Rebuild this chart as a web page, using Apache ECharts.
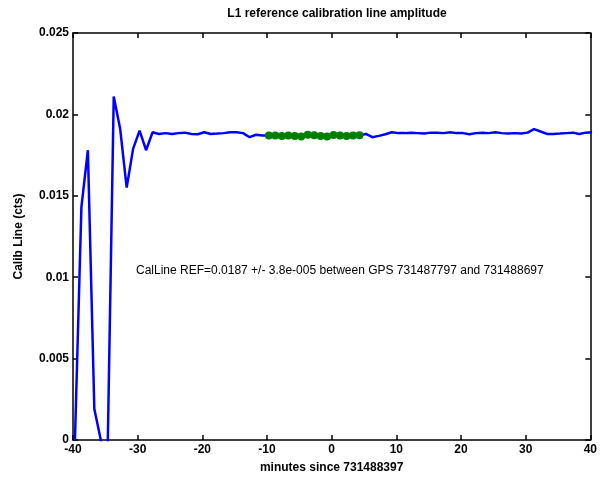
<!DOCTYPE html>
<html>
<head>
<meta charset="utf-8">
<script src="https://cdn.jsdelivr.net/npm/echarts@6/dist/echarts.min.js"></script>
<style>
  html, body { margin: 0; padding: 0; background: #fff; }
  #chart { width: 600px; height: 484px; }
</style>
</head>
<body>
<div id="chart"></div>
<script>
// minutes since 731488397, one sample per minute
const minutes = [
  -39.7, -38.7, -37.7, -36.7, -35.7, -34.7, -33.7, -32.7, -31.7, -30.7,
  -29.7, -28.7, -27.7, -26.7, -25.7, -24.7, -23.7, -22.7, -21.7, -20.7,
  -19.7, -18.7, -17.7, -16.7, -15.7, -14.7, -13.7, -12.7, -11.7, -10.7,
  -9.7, -8.7, -7.7, -6.7, -5.7, -4.7, -3.7, -2.7, -1.7, -0.7,
  0.3, 1.3, 2.3, 3.3, 4.3, 5.3, 6.3, 7.3, 8.3, 9.3,
  10.3, 11.3, 12.3, 13.3, 14.3, 15.3, 16.3, 17.3, 18.3, 19.3,
  20.3, 21.3, 22.3, 23.3, 24.3, 25.3, 26.3, 27.3, 28.3, 29.3,
  30.3, 31.3, 32.3, 33.3, 34.3, 35.3, 36.3, 37.3, 38.3, 39.3, 40.3
]
// calibration line amplitude (cts)
const calib = [
  0.0000, 0.0143, 0.0178, 0.0019, 0.0000, -0.0020, 0.0211, 0.0191, 0.0155, 0.0179,
  0.0190, 0.0178, 0.0189, 0.0188, 0.01885, 0.0188, 0.01885, 0.01888, 0.0188, 0.01878,
  0.0189, 0.0188, 0.01882, 0.01885, 0.0189, 0.0189, 0.01885, 0.0186, 0.01875, 0.0187,
  0.0187, 0.0187, 0.01868, 0.0187, 0.01868, 0.01865, 0.01875, 0.01872, 0.01868, 0.01865,
  0.01873, 0.0187, 0.01868, 0.0187, 0.01872, 0.0188, 0.0186, 0.01868, 0.01878, 0.0189,
  0.01885, 0.01885, 0.01888, 0.01885, 0.01882, 0.01888, 0.01888, 0.01885, 0.0189, 0.01885,
  0.01885, 0.01878, 0.01885, 0.01888, 0.01885, 0.0189, 0.01885, 0.01882, 0.01885, 0.01882,
  0.01888, 0.0191, 0.01895, 0.0188, 0.0188, 0.01882, 0.01885, 0.01888, 0.0188, 0.01888, 0.0189
]
// reference window: GPS 731487797 .. 731488697
const refStart = 30   // index of first sample in window
const refEnd = 44     // index of last sample in window

const xTicks = { min: -40, max: 40, interval: 10 }
const yTicks = { min: 0, max: 0.025, interval: 0.005 }

const blueData = minutes.map((m, i) => [m, calib[i]])
const greenData = blueData.slice(refStart, refEnd + 1)

const font = 'Arial, "Liberation Sans", Helvetica, sans-serif'
const axisLine = { show: true, onZero: false, lineStyle: { color: '#000', width: 1.5 } }
const axisTick = { show: true, inside: true, length: 5, lineStyle: { color: '#000', width: 1.5 } }

const chart = echarts.init(document.getElementById('chart'))
chart.setOption({
  animation: false,
  backgroundColor: '#fff',
  title: {
    text: 'L1 reference calibration line amplitude',
    left: 332, top: 3, textAlign: 'center',
    textStyle: { fontFamily: font, fontSize: 12, fontWeight: 'bold', color: '#000' }
  },
  grid: { left: 73, right: 9, top: 33, bottom: 44 },
  xAxis: [
    {
      type: 'value', min: xTicks.min, max: xTicks.max, interval: xTicks.interval,
      name: 'minutes since 731488397', nameLocation: 'middle', nameGap: 22,
      nameTextStyle: { fontFamily: font, fontSize: 12, fontWeight: 'bold', color: '#000' },
      axisLine, axisTick, splitLine: { show: false },
      axisLabel: { fontFamily: font, fontSize: 12, fontWeight: 'bold', color: '#000', margin: 4 }
    },
    {
      type: 'value', position: 'top', min: xTicks.min, max: xTicks.max, interval: xTicks.interval,
      axisLine, axisTick, splitLine: { show: false }, axisLabel: { show: false }
    }
  ],
  yAxis: [
    {
      type: 'value', min: yTicks.min, max: yTicks.max, interval: yTicks.interval,
      name: 'Calib Line (cts)', nameLocation: 'middle', nameGap: 48,
      nameTextStyle: { fontFamily: font, fontSize: 12, fontWeight: 'bold', color: '#000' },
      axisLine, axisTick, splitLine: { show: false },
      axisLabel: { fontFamily: font, fontSize: 12, fontWeight: 'bold', color: '#000', margin: 4 }
    },
    {
      type: 'value', position: 'right', min: yTicks.min, max: yTicks.max, interval: yTicks.interval,
      axisLine, axisTick, splitLine: { show: false }, axisLabel: { show: false }
    }
  ],
  graphic: [
    {
      type: 'text', left: 136, top: 265,
      style: {
        text: 'CalLine REF=0.0187 +/- 3.8e-005 between GPS 731487797 and 731488697',
        font: '12px ' + font, fill: '#000'
      }
    }
  ],
  series: [
    {
      type: 'line', data: blueData, showSymbol: false, clip: true,
      lineStyle: { color: '#0000ff', width: 2.5 }
    },
    {
      type: 'line', data: greenData, symbol: 'circle', symbolSize: 8, clip: true,
      itemStyle: { color: '#008000' },
      lineStyle: { color: '#008000', width: 2 }
    }
  ]
})
</script>
</body>
</html>
